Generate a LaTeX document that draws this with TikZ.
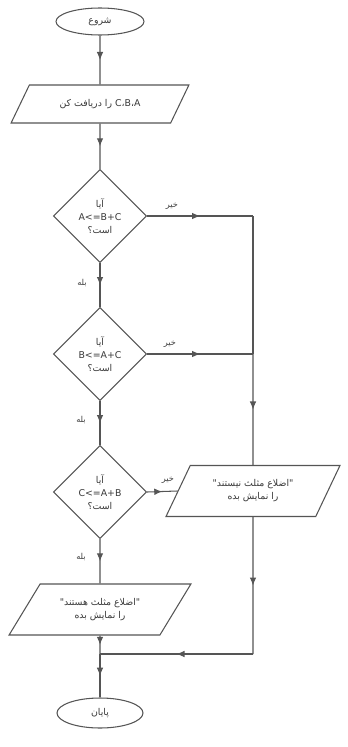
\documentclass[tikz,border=0pt]{standalone}
\usepackage{fontspec}
\usepackage{tikz}
\usetikzlibrary{shapes.geometric,decorations.markings,arrows.meta}
\newfontfamily\farsi[Script=Arabic]{DejaVu Sans}
\TeXXeTstate=1
\definecolor{linegray}{HTML}{555555}
\definecolor{textgray}{HTML}{3A3A3A}

\tikzset{
  base/.style={draw=linegray, line width=0.9pt, fill=white, text=textgray, align=center, inner sep=0pt,
    font=\farsi\fontsize{8}{11}\selectfont},
  terminal/.style={base, ellipse, minimum width=26.4mm, minimum height=8.1mm},
  decision/.style={base, diamond, minimum width=27.9mm, minimum height=27.9mm},
  io/.style={base, trapezium, trapezium stretches=true, minimum height=15.3mm},
  line/.style={draw=linegray, line width=0.9pt},
  flow/.style={line, postaction={decorate},
    decoration={markings, mark=at position 0.5 with {\arrow{Latex[length=2.4mm,width=2mm]}}}},
  lbl/.style={text=textgray, font=\farsi\fontsize{7}{8}\selectfont}
}

\begin{document}
\begin{tikzpicture}[x=0.3mm, y=-0.3mm]
  \useasboundingbox (0,0) rectangle (348,747);

  \node[terminal] (start) at (100,21.5) {\beginR شروع\endR};
  \node[io, minimum width=53.4mm, minimum height=11.4mm,
        trapezium left angle=42, trapezium right angle=138] (read) at (100,104)
    {\beginR\beginL C،B،A\endL{} را دریافت کن\endR};

  \node[decision] (ask1) at (100,216) {\beginR آیا\endR\\A<=B+C\\\beginR است؟\endR};
  \node[decision] (ask2) at (100,354) {\beginR آیا\endR\\B<=A+C\\\beginR است؟\endR};
  \node[decision] (ask3) at (100,492) {\beginR آیا\endR\\C<=A+B\\\beginR است؟\endR};

  \node[io, minimum width=52.5mm, trapezium left angle=55, trapezium right angle=125] (notri) at (253,491)
    {\beginR "اضلاع مثلث نیستند"\endR\\\beginR را نمایش بده\endR};
  \node[io, minimum width=54.6mm, trapezium left angle=47, trapezium right angle=133] (istri) at (100,609.5)
    {\beginR "اضلاع مثلث هستند"\endR\\\beginR را نمایش بده\endR};

  \node[terminal, minimum width=25.8mm, minimum height=9mm] (stop) at (100,713) {\beginR پایان\endR};

  \coordinate (r1) at (253,216);
  \coordinate (r2) at (253,354);
  \coordinate (r3) at (253,654);
  \coordinate (join) at (100,654);

  % main line
  \draw[flow] (start) -- (read);
  \draw[flow] (read) -- (ask1);
  \draw[flow] (ask1) -- (ask2);
  \draw[flow] (ask2) -- (ask3);
  \draw[flow] (ask3) -- (istri);
  \draw[flow] (istri) -- (join);
  \draw[flow] (join) -- (stop);

  % no branches
  \draw[flow] (ask1.east) -- ([xshift=-27mm]r1) -- (r1);
  \draw[line] (r1) -- (r2);
  \draw[flow] (ask2.east) -- ([xshift=-21mm]r2) -- (r2);
  \draw[flow] (r2) -- (notri.north);
  \draw[flow] (ask3.east) -- (notri.west);
  \draw[flow] (notri.south) -- (r3);
  \draw[flow] (r3) -- (join);

  \node[lbl] (no1) at (172,206) {\beginR خیر\endR};
  \node[lbl] (no2) at (170,344) {\beginR خیر\endR};
  \node[lbl] (no3) at (168,480) {\beginR خیر\endR};
  \node[lbl] (yes1) at (82,283) {\beginR بله\endR};
  \node[lbl] (yes2) at (81,420) {\beginR بله\endR};
  \node[lbl] (yes3) at (81,557) {\beginR بله\endR};
\end{tikzpicture}
\end{document}
